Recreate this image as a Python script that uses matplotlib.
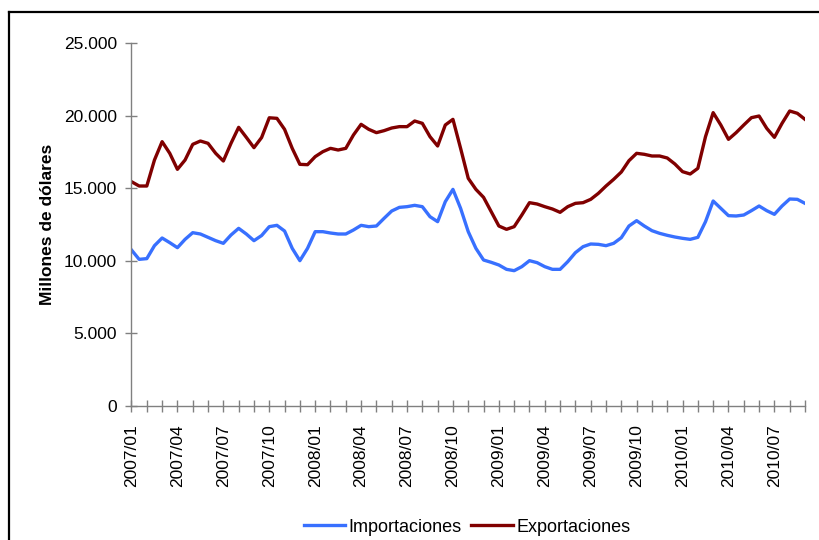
import matplotlib
matplotlib.use("Agg")
import matplotlib.pyplot as plt
from matplotlib.lines import Line2D
from matplotlib.ticker import FuncFormatter
import numpy as np

plt.rcParams["font.family"] = ["Liberation Sans", "DejaVu Sans"]

# two readings per month, 2007/01 .. 2010/09 (millones de dólares)
importaciones = [
    10744, 10100, 10150, 11042, 11570, 11249, 10904, 11478, 11937, 11846,
    11616, 11386, 11203, 11777, 12235, 11846, 11386, 11740, 12351, 12443,
    12052, 10858, 10009, 10858, 12006, 12006, 11914, 11846, 11846, 12121,
    12443, 12351, 12397, 12924, 13430, 13680, 13728, 13820, 13728, 13039,
    12695, 14072, 14920, 13613, 12006, 10858, 10055, 9895, 9711, 9412,
    9320, 9596, 10009, 9871, 9596, 9412, 9412, 9940, 10560, 10973,
    11157, 11134, 11042, 11203, 11593, 12397, 12764, 12397, 12075, 11892,
    11754, 11639, 11547, 11478, 11616, 12695, 14118, 13613, 13109, 13086,
    13154, 13453, 13774, 13453, 13200, 13774, 14256, 14233, 13957,
]
exportaciones = [
    15448, 15151, 15151, 16942, 18205, 17402, 16300, 16942, 18020, 18250,
    18090, 17402, 16873, 18090, 19192, 18503, 17792, 18490, 19850, 19811,
    19054, 17745, 16643, 16620, 17172, 17516, 17745, 17630, 17745, 18664,
    19398, 19054, 18825, 18963, 19146, 19240, 19237, 19628, 19467, 18549,
    17906, 19352, 19742, 17745, 15680, 14920, 14370, 13384, 12397, 12167,
    12351, 13154, 14003, 13911, 13728, 13567, 13338, 13728, 13957, 14003,
    14232, 14645, 15151, 15611, 16116, 16896, 17402, 17334, 17218, 17218,
    17080, 16667, 16139, 15978, 16368, 18549, 20202, 19352, 18365, 18825,
    19352, 19857, 19972, 19123, 18503, 19467, 20317, 20157, 19742,
]
meses = [f"{a}/{m:02d}" for a in range(2007, 2011) for m in range(1, 13)][:45]
etiquetas = meses[::3]

C_IMP = "#3870FF"
C_EXP = "#800000"
C_AX = "#808080"

fig = plt.figure(figsize=(8.2, 5.4), dpi=100)
ax = fig.add_axes([131.5 / 820, 1 - 406 / 540, (805 - 131.5) / 820, 363 / 540])

x = np.arange(len(exportaciones)) / 2
ax.plot(x, importaciones, color=C_IMP, lw=2.4, label="Importaciones", solid_joinstyle="round")
ax.plot(x, exportaciones, color=C_EXP, lw=2.4, label="Exportaciones", solid_joinstyle="round")

ax.set_xlim(0, len(meses) - 1)
ax.set_ylim(0, 25000)
ax.set_yticks(range(0, 25001, 5000))
ax.yaxis.set_major_formatter(FuncFormatter(lambda v, p: f"{int(v):,}".replace(",", ".")))
ax.set_xticks(np.arange(0, len(meses), 3))
ax.set_xticklabels(etiquetas, rotation=90)
ax.set_xticks(np.arange(len(meses)), minor=True)

for s in ["top", "right"]:
    ax.spines[s].set_visible(False)
for s in ["left", "bottom"]:
    ax.spines[s].set_color(C_AX)
    ax.spines[s].set_linewidth(1.0)

ax.tick_params(axis="both", which="both", direction="inout", length=8,
               color=C_AX, width=1.0, labelsize=12.5, labelcolor="black")
ax.tick_params(axis="y", pad=6.4)
ax.tick_params(axis="x", which="both", pad=9)

ax.set_ylabel("Millones de dólares", fontsize=12.5, fontweight="bold")
ax.yaxis.set_label_coords(-0.113, 0.5)

fig.legend(loc="center", bbox_to_anchor=(467 / 820, 1 - 527 / 540), ncol=2,
           frameon=False, fontsize=13, handlelength=2.3, handletextpad=0.2,
           columnspacing=0.5, borderaxespad=0)

# outer frame (cut by the image edge on right and bottom)
fig.add_artist(Line2D([9 / 820, 9 / 820], [1 - 12 / 540, -0.1], color="black", lw=1.6,
                      transform=fig.transFigure))
fig.add_artist(Line2D([9 / 820, 1.1], [1 - 12 / 540, 1 - 12 / 540], color="black", lw=1.6,
                      transform=fig.transFigure))

fig.savefig("out.png", dpi=100)
